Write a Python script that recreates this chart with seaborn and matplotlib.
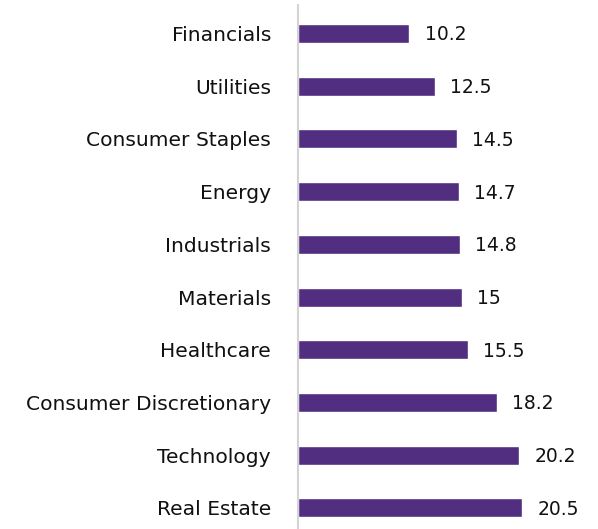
import matplotlib.pyplot as plt
import seaborn as sns
import pandas as pd

sns.set_theme(style="white")
plt.rcParams['font.family'] = ['DejaVu Sans']

sectors = ["Financials", "Utilities", "Consumer Staples", "Energy", "Industrials",
           "Materials", "Healthcare", "Consumer Discretionary", "Technology", "Real Estate"]
values = [10.2, 12.5, 14.5, 14.7, 14.8, 15, 15.5, 18.2, 20.2, 20.5]
labels = ["10.2", "12.5", "14.5", "14.7", "14.8", "15", "15.5", "18.2", "20.2", "20.5"]

df = pd.DataFrame({"sector": sectors, "value": values})

fig = plt.figure(figsize=(5.98, 5.29), dpi=100)
ax = fig.add_axes([297.5 / 598, 0, 300.5 / 598, 524 / 529])

sns.barplot(data=df, x="value", y="sector", color="#512E80", saturation=1,
            width=0.36, ax=ax)

# value labels to the right of each bar
for i, (v, t) in enumerate(zip(values, labels)):
    ax.annotate(t, (v, i), xytext=(11, -1), textcoords="offset points",
                ha="left", va="center", fontsize=13.5, color="#111111")

ax.set_xlim(0, 300.5 / 10.97)
ax.set_ylim(9.4, -0.54)
ax.set_xlabel("")
ax.set_ylabel("")
ax.set_xticks([])
ax.tick_params(axis="y", length=0, pad=19, labelsize=14.6, labelcolor="#111111")
for s in ["top", "right", "bottom"]:
    ax.spines[s].set_visible(False)
ax.spines["left"].set_color("#d4d4d4")
ax.spines["left"].set_linewidth(1.5)

plt.savefig("out.png", dpi=100)
plt.close()
